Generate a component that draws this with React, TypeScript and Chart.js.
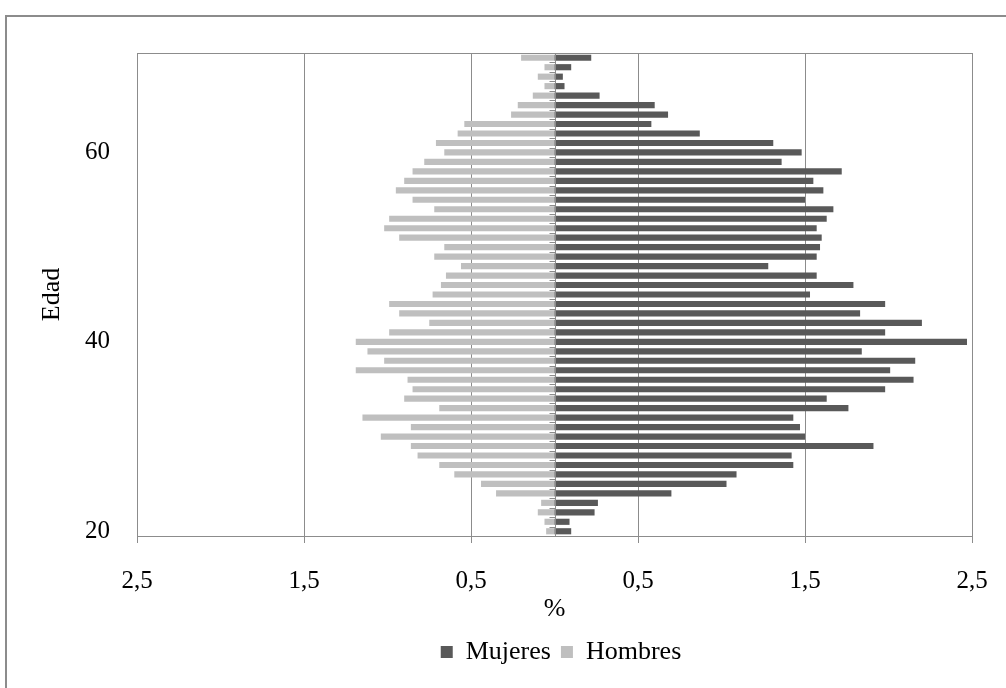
import React, { useEffect, useRef } from 'react';
import { Chart, registerables } from 'chart.js';

Chart.register(...registerables);

// Age categories (years)
const ages = [
  20, 21, 22, 23, 24, 25, 26, 27, 28, 29,
  30, 31, 32, 33, 34, 35, 36, 37, 38, 39,
  40, 41, 42, 43, 44, 45, 46, 47, 48, 49,
  50, 51, 52, 53, 54, 55, 56, 57, 58, 59,
  60, 61, 62, 63, 64, 65, 66, 67, 68, 69,
  70,
];

// Percentage of women per age (20..70)
const mujeres = [
  0.10, 0.09, 0.24, 0.26, 0.70, 1.03, 1.09, 1.43, 1.42, 1.91,
  1.50, 1.47, 1.43, 1.76, 1.63, 1.98, 2.15, 2.01, 2.16, 1.84,
  2.47, 1.98, 2.20, 1.83, 1.98, 1.53, 1.79, 1.57, 1.28, 1.57,
  1.59, 1.60, 1.57, 1.63, 1.67, 1.50, 1.61, 1.55, 1.72, 1.36,
  1.48, 1.31, 0.87, 0.58, 0.68, 0.60, 0.27, 0.06, 0.05, 0.10,
  0.22,
];

// Percentage of men per age (20..70)
const hombres = [
  0.05, 0.06, 0.10, 0.08, 0.35, 0.44, 0.60, 0.69, 0.82, 0.86,
  1.04, 0.86, 1.15, 0.69, 0.90, 0.85, 0.88, 1.19, 1.02, 1.12,
  1.19, 0.99, 0.75, 0.93, 0.99, 0.73, 0.68, 0.65, 0.56, 0.72,
  0.66, 0.93, 1.02, 0.99, 0.72, 0.85, 0.95, 0.90, 0.85, 0.78,
  0.66, 0.71, 0.58, 0.54, 0.26, 0.22, 0.13, 0.06, 0.10, 0.06,
  0.20,
];

const labeledAges = [20, 40, 60];

const FAMILY = "'Liberation Serif', 'Times New Roman', serif";
const TICK_FONT = { family: FAMILY, size: 25 };
const TITLE_FONT = { family: FAMILY, size: 26 };
const LINE = '#8c8c8c';

export default function App() {
  const ref = useRef<HTMLCanvasElement>(null);

  useEffect(() => {
    document.body.style.margin = '0';
    const canvas = ref.current;
    if (!canvas) return;

    const decor = {
      id: 'decor',
      afterLayout(chart: any) {
        const lg = chart.legend;
        if (lg) {
          lg.left += 59;
          lg.right += 59;
        }
      },
      beforeDraw(chart: any) {
        const { ctx } = chart;
        ctx.save();
        ctx.fillStyle = '#ffffff';
        ctx.fillRect(0, 0, chart.width, chart.height);
        ctx.strokeStyle = LINE;
        ctx.lineWidth = 2;
        ctx.beginPath();
        ctx.moveTo(6, chart.height);
        ctx.lineTo(6, 16);
        ctx.lineTo(chart.width, 16);
        ctx.stroke();
        ctx.restore();
      },
      afterDatasetsDraw(chart: any) {
        const { ctx, chartArea } = chart;
        const xs = chart.scales.x;
        const ys = chart.scales.y;
        const x0 = Math.round(xs.getPixelForValue(0)) + 0.5;
        ctx.save();
        ctx.strokeStyle = LINE;
        ctx.lineWidth = 1;
        ctx.beginPath();
        ctx.moveTo(x0, chartArea.top);
        ctx.lineTo(x0, chartArea.bottom);
        const n = ages.length;
        for (let i = 0; i <= n; i++) {
          let y: number;
          if (i === 0) {
            y = chartArea.bottom;
          } else if (i === n) {
            y = chartArea.top;
          } else {
            y = (ys.getPixelForValue(i - 1) + ys.getPixelForValue(i)) / 2;
          }
          y = Math.round(y) + 0.5;
          ctx.moveTo(x0 - 6, y);
          ctx.lineTo(x0, y);
        }
        ctx.stroke();
        // top border of plot area
        ctx.beginPath();
        ctx.moveTo(chartArea.left, Math.round(chartArea.top) + 0.5);
        ctx.lineTo(chartArea.right, Math.round(chartArea.top) + 0.5);
        ctx.stroke();
        ctx.restore();
      },
    };

    const chart = new Chart(canvas, {
      type: 'bar',
      data: {
        labels: ages.map(String),
        datasets: [
          {
            label: 'Mujeres',
            data: mujeres,
            backgroundColor: '#595959',
            barPercentage: 0.65,
            categoryPercentage: 1,
          },
          {
            label: 'Hombres',
            data: hombres.map((v) => -v),
            backgroundColor: '#bfbfbf',
            barPercentage: 0.65,
            categoryPercentage: 1,
          },
        ],
      },
      options: {
        indexAxis: 'y',
        responsive: false,
        animation: false,
        layout: { padding: { top: 53, right: 34, left: 32, bottom: 13 } },
        plugins: {
          legend: {
            position: 'bottom',
            labels: {
              boxWidth: 12,
              boxHeight: 12,
              padding: 10,
              color: '#000',
              font: TITLE_FONT,
            },
          },
          tooltip: { enabled: false },
        },
        scales: {
          x: {
            type: 'linear',
            min: -2.5,
            max: 2.5,
            stacked: true,
            ticks: {
              stepSize: 1,
              color: '#000',
              font: TICK_FONT,
              padding: 23,
              maxRotation: 0,
              callback: (v: any) => Math.abs(Number(v)).toFixed(1).replace('.', ','),
            },
            grid: { color: LINE, tickLength: 7, drawTicks: true },
            border: { color: LINE },
            title: {
              display: true,
              text: '%',
              color: '#000',
              font: TITLE_FONT,
              padding: { top: 0, bottom: 4 },
            },
            afterFit: (s: any) => {
              s.height = 93;
              s.paddingLeft = 0;
              s.paddingRight = 0;
            },
          },
          y: {
            type: 'category',
            reverse: true,
            stacked: true,
            grid: { display: false, drawTicks: false },
            border: { color: LINE },
            ticks: {
              autoSkip: false,
              color: '#000',
              font: TICK_FONT,
              padding: 27,
              callback: (_v: any, idx: number) =>
                labeledAges.includes(ages[idx]) ? String(ages[idx]) : '',
            },
            title: {
              display: true,
              text: 'Edad',
              color: '#000',
              font: TITLE_FONT,
              padding: { top: 5, bottom: 4 },
            },
            afterFit: (s: any) => {
              s.width = 105;
              s.paddingTop = 0;
              s.paddingBottom = 0;
            },
          },
        },
      },
      plugins: [decor],
    } as any);

    return () => chart.destroy();
  }, []);

  return (
    <div style={{ width: 1006, height: 688 }}>
      <canvas ref={ref} width={1006} height={688} />
    </div>
  );
}
